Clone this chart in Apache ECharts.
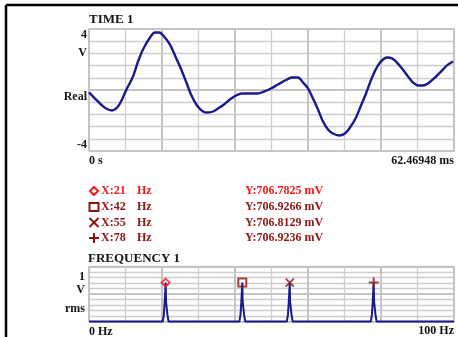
<!DOCTYPE html>
<html>
<head>
<meta charset="utf-8">
<script src="https://cdn.jsdelivr.net/npm/echarts@6/dist/echarts.min.js"></script>
<style>
  html, body { margin: 0; padding: 0; background: #ffffff; }
  #chart { width: 458px; height: 337px; }
</style>
</head>
<body>
<div id="chart"></div>
<script>
// ---- Time trace (ms, V) ----
const TIME_SPAN_MS = 62.46948;
const timeMs = [0.00, 1.03, 2.05, 2.91, 3.94, 4.96, 5.65, 6.33, 7.53, 8.39, 9.24, 10.44, 11.30, 11.98, 12.84, 13.86, 14.72, 15.57, 16.60, 17.46, 18.48, 19.51, 20.37, 21.22, 22.08, 23.11, 24.13, 25.16, 26.19, 27.56, 28.92, 29.95, 31.15, 32.35, 33.55, 34.74, 35.77, 36.63, 37.48, 38.34, 39.19, 40.05, 40.90, 41.76, 42.79, 43.81, 44.67, 45.70, 46.55, 47.41, 48.44, 49.46, 50.32, 51.00, 51.86, 52.71, 53.57, 54.60, 55.45, 56.31, 57.16, 58.02, 59.22, 60.24, 61.27, 62.30];
const timeVolts = [-0.16, -0.56, -0.95, -1.21, -1.34, -1.08, -0.62, -0.03, 0.89, 1.87, 2.66, 3.44, 3.77, 3.77, 3.51, 2.98, 2.26, 1.54, 0.56, -0.30, -1.02, -1.41, -1.48, -1.41, -1.21, -0.95, -0.62, -0.36, -0.23, -0.23, -0.23, -0.10, 0.10, 0.36, 0.62, 0.82, 0.82, 0.49, 0.10, -0.56, -1.28, -2.07, -2.59, -2.85, -2.98, -2.85, -2.46, -1.80, -1.02, -0.23, 0.82, 1.61, 2.00, 2.13, 2.07, 1.80, 1.41, 0.89, 0.49, 0.30, 0.30, 0.43, 0.82, 1.21, 1.61, 1.87];

// ---- Spectrum cursors (Hz, mV rms) ----
const cursorFreqs = [21, 42, 55, 78];
const cursorMilliVolts = [706.7825, 706.9266, 706.8129, 706.9236];
// shape of each spectral line: bin offsets (Hz) and side-bin levels (V rms)
const lineBinOffsets = [-0.8, -0.5, -0.28, -0.1, 0, 0.1, 0.28, 0.5, 0.8];
const lineSideLevels = [0, 0.12, 0.34, 0.36, null, 0.36, 0.34, 0.12, 0];

// ---- Axis texts ----
const timeTitle = 'TIME 1';
const freqTitle = 'FREQUENCY 1';
const timeYLabels = ['4', 'V', 'Real', '-4'];
const timeXLabels = ['0 s', TIME_SPAN_MS + ' ms'];
const freqYLabels = ['1', 'V', 'rms'];
const freqXLabels = ['0 Hz', '100 Hz'];
const FREQ_MAX = 100;

const NAVY = '#1a1a8c';
const RED = '#f01a1a';
const DARK_RED = '#8c1616';
const cursorColors = [RED, DARK_RED, DARK_RED, DARK_RED];
const FONT = '"Liberation Serif", "DejaVu Serif", serif';

const timeData = timeMs.map((t, i) => [t, timeVolts[i]]);

const spectrumData = [[0, 0]];
cursorFreqs.forEach((f, k) => {
  const peak = cursorMilliVolts[k] / 1000;
  lineBinOffsets.forEach((d, j) => {
    spectrumData.push([f + d, lineSideLevels[j] === null ? peak : lineSideLevels[j]]);
  });
});
spectrumData.push([FREQ_MAX, 0]);

// hollow marker paths for the cross and plus cursors
const crossPath = 'path://M0,0L10,10M10,0L0,10';
const plusPath = 'path://M5,0L5,10M0,5L10,5';
const cursorSymbols = ['diamond', 'rect', crossPath, plusPath];
const cursorSizes = [[8, 8], [8, 8], [8, 8], [10, 10]];

const chart = echarts.init(document.getElementById('chart'), null, { renderer: 'canvas' });

function gridAxisX(gridIndex, max, interval) {
  return {
    type: 'value', gridIndex, min: 0, max, interval,
    axisLine: { show: false }, axisTick: { show: false }, axisLabel: { show: false },
    splitLine: { show: true, lineStyle: { color: '#c4c4c4', width: 2 } },
    minorTick: { show: false, splitNumber: 2 },
    minorSplitLine: { show: true, lineStyle: { color: '#cdcdcd', width: 1.3 } }
  };
}
function gridAxisY(gridIndex, min, max, interval, minorSplit) {
  return {
    type: 'value', gridIndex, min, max, interval,
    axisLine: { show: false }, axisTick: { show: false }, axisLabel: { show: false },
    splitLine: { show: true, lineStyle: { color: '#c4c4c4', width: 2 } },
    minorTick: { show: false, splitNumber: minorSplit },
    minorSplitLine: { show: true, lineStyle: { color: '#cdcdcd', width: 1.3 } }
  };
}

const series = [
  {
    type: 'line', xAxisIndex: 0, yAxisIndex: 0, data: timeData,
    smooth: 0.35, showSymbol: false, symbol: 'none', silent: true,
    lineStyle: { color: NAVY, width: 2.4 }
  },
  {
    type: 'line', xAxisIndex: 1, yAxisIndex: 1, data: spectrumData,
    showSymbol: false, symbol: 'none', silent: true, clip: false,
    lineStyle: { color: NAVY, width: 2 }
  }
];
cursorFreqs.forEach((f, k) => {
  series.push({
    type: 'scatter', xAxisIndex: 1, yAxisIndex: 1, silent: true,
    data: [[f, cursorMilliVolts[k] / 1000]],
    symbol: cursorSymbols[k], symbolSize: cursorSizes[k],
    itemStyle: { color: 'rgba(0,0,0,0)', borderColor: cursorColors[k], borderWidth: 2 },
    z: 5
  });
});

// static texts
const txt = (text, x, y, align, vAlign, color, size) => ({
  type: 'text', x, y, silent: true,
  style: {
    text, fill: color || '#141414', align: align || 'left', verticalAlign: vAlign || 'middle',
    font: 'bold ' + (size || 12) + 'px ' + FONT
  }
});

const graphic = [
  // outer frame
  { type: 'line', shape: { x1: 6, y1: 5, x2: 458, y2: 5 }, style: { stroke: '#000', lineWidth: 2.5 } },
  { type: 'line', shape: { x1: 6, y1: 5, x2: 6, y2: 337 }, style: { stroke: '#000', lineWidth: 2.5 } },
  txt(timeTitle, 89, 20, 'left', 'middle', '#141414', 13),
  txt(timeYLabels[0], 87, 29, 'right', 'top'),
  txt(timeYLabels[1], 87, 53, 'right', 'middle'),
  txt(timeYLabels[2], 87, 91, 'right', 'top'),
  txt(timeYLabels[3], 87, 151, 'right', 'bottom'),
  txt(timeXLabels[0], 89, 161, 'left', 'middle'),
  txt(timeXLabels[1], 454, 161, 'right', 'middle'),
  txt(freqTitle, 88, 259, 'left', 'middle', '#141414', 13),
  txt(freqYLabels[0], 85, 277, 'right', 'middle'),
  txt(freqYLabels[1], 85, 290, 'right', 'middle'),
  txt(freqYLabels[2], 85, 309, 'right', 'middle'),
  txt(freqXLabels[0], 89, 332, 'left', 'middle'),
  txt(freqXLabels[1], 454, 331, 'right', 'middle')
];

// cursor readout rows
const rowY = [191, 207, 222.5, 238];
cursorFreqs.forEach((f, k) => {
  const y = rowY[k];
  const c = cursorColors[k];
  const cx = 94;
  if (k === 0) {
    graphic.push({ type: 'polygon', shape: { points: [[cx, y - 4], [cx + 4, y], [cx, y + 4], [cx - 4, y]] }, style: { fill: 'none', stroke: c, lineWidth: 2 } });
  } else if (k === 1) {
    graphic.push({ type: 'rect', shape: { x: cx - 4.5, y: y - 4, width: 9, height: 8 }, style: { fill: 'none', stroke: c, lineWidth: 2 } });
  } else if (k === 2) {
    graphic.push({ type: 'polyline', shape: { points: [[cx - 4.5, y - 4.5], [cx + 4.5, y + 4.5]] }, style: { stroke: c, lineWidth: 2 } });
    graphic.push({ type: 'polyline', shape: { points: [[cx + 4.5, y - 4.5], [cx - 4.5, y + 4.5]] }, style: { stroke: c, lineWidth: 2 } });
  } else {
    graphic.push({ type: 'polyline', shape: { points: [[cx - 5, y], [cx + 5, y]] }, style: { stroke: c, lineWidth: 2 } });
    graphic.push({ type: 'polyline', shape: { points: [[cx, y - 5], [cx, y + 5]] }, style: { stroke: c, lineWidth: 2 } });
  }
  graphic.push(txt('X:' + f, 101, y, 'left', 'middle', c));
  graphic.push(txt('Hz', 137, y, 'left', 'middle', c));
  graphic.push(txt('Y:' + cursorMilliVolts[k].toFixed(4) + ' mV', 245, y, 'left', 'middle', c));
});

chart.setOption({
  animation: false,
  backgroundColor: '#ffffff',
  grid: [
    { left: 89, top: 29, width: 365, height: 122, show: true, borderColor: '#c4c4c4', borderWidth: 1.5, containLabel: false },
    { left: 89, top: 266.5, width: 365, height: 55, show: true, borderColor: '#c4c4c4', borderWidth: 1.5, containLabel: false }
  ],
  xAxis: [
    gridAxisX(0, TIME_SPAN_MS, TIME_SPAN_MS / 5),
    gridAxisX(1, FREQ_MAX, 20)
  ],
  yAxis: [
    gridAxisY(0, -4, 4, 4, 5),
    gridAxisY(1, 0, 1, 0.5, 5)
  ],
  series,
  graphic
});
</script>
</body>
</html>
